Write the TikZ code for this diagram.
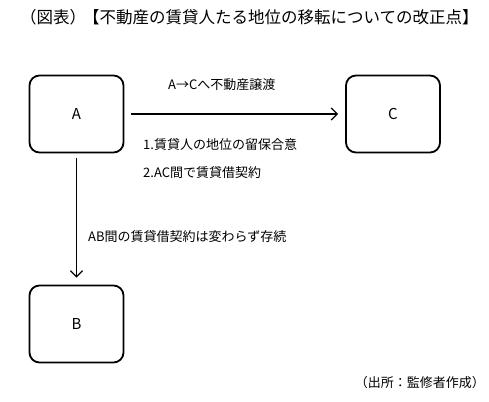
\documentclass[tikz,border=0pt]{standalone}
\usepackage{fontspec}
\setmainfont{Noto Sans CJK JP}
\usetikzlibrary{arrows.meta,calc}
\begin{document}
\begin{tikzpicture}[x=1pt,y=-1pt,
  party/.style={draw,line width=1.8pt,rounded corners=10pt,minimum width=94pt,minimum height=77pt,inner sep=0pt,font=\fontsize{15}{17}\selectfont},
  lbl/.style={font=\fontsize{13}{15}\selectfont,inner sep=0pt},
  ttl/.style={font=\fontsize{16.5}{18}\selectfont,inner sep=0pt,anchor=west},
  conn/.style={line width=1.3pt,-{Straight Barb[length=6pt,width=12pt,line width=1.3pt]}}]
\useasboundingbox (0,0) rectangle (489,401);
\node[ttl] (title0) at (20,17) {（図表）};
\node[ttl] (title) at (83,17) {【不動産の賃貸人たる地位の移転についての改正点】};
\node[party] (A) at (76.5,114) {A};
\node[party] (C) at (393,114) {C};
\node[party] (B) at (76.5,324) {B};
\draw[conn] ($(A.east)+(7,0)$) -- ($(C.west)+(-7,0)$);
\node[lbl,anchor=west] (l1) at (168,85) {A→Cへ不動産譲渡};
\node[lbl,anchor=west] (l2) at (143,145) {1.賃貸人の地位の留保合意};
\node[lbl,anchor=west] (l3) at (143,173) {2.AC間で賃貸借契約};
\draw[conn] ($(A.south)+(0,5)$) -- ($(B.north)+(0,-7)$);
\node[lbl,anchor=west] (l4) at (88,237) {AB間の賃貸借契約は変わらず存続};
\node[lbl,anchor=east] (src) at (485,383) {（出所：監修者作成）};
\end{tikzpicture}
\end{document}
